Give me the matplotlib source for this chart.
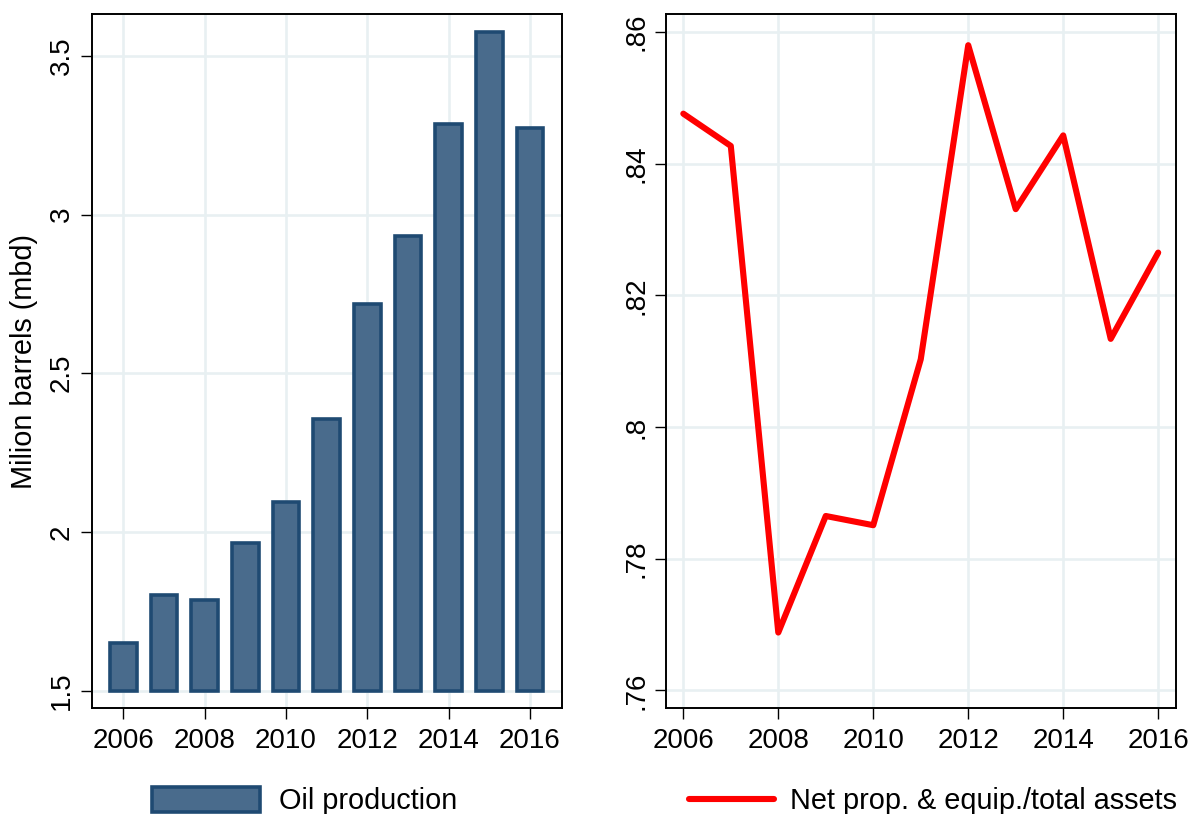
import matplotlib
matplotlib.use("Agg")
import matplotlib.pyplot as plt
import numpy as np

plt.rcParams["font.family"] = ["Liberation Sans", "DejaVu Sans"]

# data
years = [2006, 2007, 2008, 2009, 2010, 2011, 2012, 2013, 2014, 2015, 2016]
oil_production = [1.651, 1.800, 1.787, 1.966, 2.093, 2.356, 2.717, 2.932, 3.286, 3.574, 3.274]
ppe_ratio = [0.8476, 0.8427, 0.7688, 0.7865, 0.7851, 0.8103, 0.8580, 0.8331, 0.8443, 0.8134, 0.8265]

xticks = [2006, 2008, 2010, 2012, 2014, 2016]
left_yticks = [1.5, 2.0, 2.5, 3.0, 3.5]
left_yticklabels = ["1.5", "2", "2.5", "3", "3.5"]
right_yticks = [0.76, 0.78, 0.80, 0.82, 0.84, 0.86]
right_yticklabels = [".76", ".78", ".8", ".82", ".84", ".86"]

grid_col = "#e8f0f2"
fs = 20
lfs = 20.8

fig = plt.figure(figsize=(11.95, 8.14), dpi=100)
ax1 = fig.add_axes([0.0767, 0.1299, 0.3933, 0.8526])
ax2 = fig.add_axes([0.5571, 0.1299, 0.4268, 0.8526])

base = 1.5
ax1.bar(years, np.array(oil_production) - base, bottom=base, width=0.66,
        color="#496b8c", edgecolor="#1f4a72", linewidth=2.6,
        label="Oil production", zorder=3)
ax1.set_xlim(2005.22, 2016.78)
ax1.set_ylim(1.4445, 3.631)
ax1.set_yticks(left_yticks)
ax1.set_yticklabels(left_yticklabels)
ax1.set_ylabel("Milion barrels (mbd)", fontsize=lfs, labelpad=8)

ax2.plot(years, ppe_ratio, color="#ff0000", linewidth=4.4,
         solid_capstyle="round", label="Net prop. & equip./total assets", zorder=3)
ax2.set_xlim(2005.63, 2016.37)
ax2.set_ylim(0.7573, 0.8627)
ax2.set_yticks(right_yticks)
ax2.set_yticklabels(right_yticklabels)

for ax in (ax1, ax2):
    ax.set_xticks(xticks)
    ax.grid(True, color=grid_col, linewidth=1.9, zorder=0)
    ax.set_axisbelow(True)
    for s in ax.spines.values():
        s.set_linewidth(1.4)
        s.set_color("black")
    ax.tick_params(axis="both", labelsize=fs, direction="out", length=8, width=1.0)
    ax.tick_params(axis="x", pad=6)
    ax.tick_params(axis="y", pad=4)
    for lbl in ax.get_yticklabels():
        lbl.set_rotation(90)
        lbl.set_va("center")

leg1 = fig.legend(handles=ax1.get_legend_handles_labels()[0], labels=["Oil production"],
                  loc="center", bbox_to_anchor=(0.255, 0.016), frameon=False,
                  fontsize=lfs, handlelength=3.75, handleheight=1.0, handletextpad=0.65)
leg2 = fig.legend(handles=ax2.get_legend_handles_labels()[0],
                  labels=["Net prop. & equip./total assets"],
                  loc="center", bbox_to_anchor=(0.781, 0.016), frameon=False,
                  fontsize=lfs, handlelength=2.95, handletextpad=0.55)

fig.savefig("out.png", dpi=100)
